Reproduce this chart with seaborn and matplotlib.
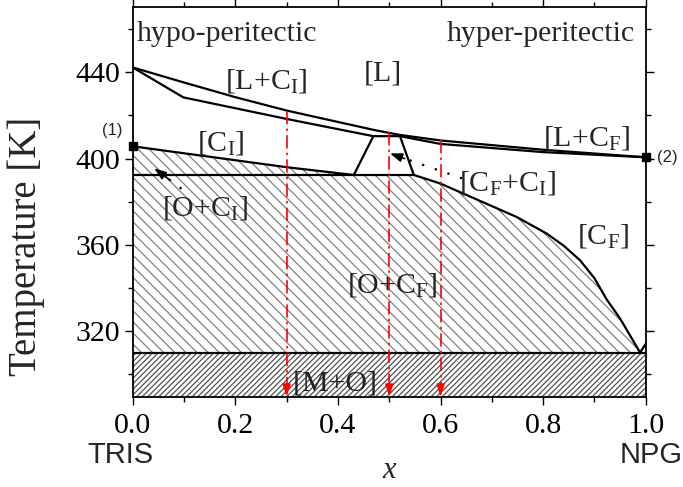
import numpy as np
import pandas as pd
import matplotlib
matplotlib.use("Agg")
import matplotlib.pyplot as plt
import seaborn as sns
from matplotlib.ticker import MultipleLocator

# ---------------- data ----------------
liq_x = [0.0, 0.1, 0.2, 0.3, 0.4, 0.47, 0.52, 0.6, 0.8, 1.0]
liq_T = [442.3, 435.3, 428.5, 422.3, 417.0, 413.3, 411.0, 408.4, 404.1, 400.6]

solI_x = [0.0, 0.0987, 0.3, 0.469]
solI_T = [442.3, 428.4, 418.4, 410.4]

solF_x = [0.521, 0.6, 0.8, 1.0]
solF_T = [410.4, 406.8, 403.0, 400.6]

trap_x = [0.431, 0.469, 0.521, 0.548]
trap_T = [392.4, 410.4, 410.4, 392.4]

solvI_x = [0.0, 0.3, 0.431]
solvI_T = [405.7, 396.0, 392.4]

perit_x = [0.0, 0.548]
perit_T = [392.4, 392.4]

solvF_x = [0.548, 0.6, 0.7485, 0.807, 0.84, 0.872, 0.90, 0.924, 0.95, 0.989]
solvF_T = [392.4, 388.4, 372.9, 365.2, 359.6, 352.8, 344.5, 334.6, 325.8, 310.0]

tail_x = [0.989, 1.0]
tail_T = [310.0, 314.0]

eutd_x = [0.0, 1.0]
eutd_T = [310.0, 310.0]

probe_x = [0.3, 0.5, 0.6]
probe_top = [422.3, 412.2, 408.4]

pure_x = [0.0, 1.0]
pure_T = [405.9, 400.6]
pure_lab = ["(1)", "(2)"]

ymin, ymax = 289.5, 470.2

# ---------------- style ----------------
sns.set_theme(style="ticks")
plt.rcParams["font.family"] = ["Liberation Serif", "DejaVu Serif"]
plt.rcParams["mathtext.fontset"] = "custom"
plt.rcParams["mathtext.rm"] = "Liberation Serif"
plt.rcParams["mathtext.it"] = "Liberation Serif:italic"
plt.rcParams["hatch.linewidth"] = 0.9

fig = plt.figure(figsize=(6.83, 4.87), dpi=100)
ax = fig.add_axes([0.1943, 0.1854, 0.7511, 0.7996])

hcol = "#808080"
# hatched regions
poly_x = solvI_x + solvF_x + [0.0]
poly_T = solvI_T + solvF_T + [310.0]
ax.fill(poly_x, poly_T, facecolor="none", edgecolor=hcol, linewidth=0, hatch="\\\\\\")
ax.fill_between(eutd_x, eutd_T, [ymin - 5, ymin - 5], facecolor="none",
                edgecolor="#505050", linewidth=0, hatch="//////")

def line(xs, ys, **kw):
    df = pd.DataFrame({"x": xs, "T": ys})
    sns.lineplot(data=df, x="x", y="T", sort=False, estimator=None, ax=ax,
                 color="black", linewidth=1.6, **kw)

line(liq_x, liq_T)
line(solI_x, solI_T)
line(solF_x, solF_T)
line(trap_x, trap_T)
line(solvI_x, solvI_T)
line(perit_x, perit_T)
line(solvF_x, solvF_T)
line(tail_x, tail_T)
line(eutd_x, eutd_T)

# red probe arrows
for px, pt in zip(probe_x, probe_top):
    ax.plot([px, px], [pt, ymin + 4], color="red", lw=1.2,
            linestyle=(0, (8, 2.5, 1.5, 2.5)))
    ax.annotate("", xy=(px, ymin), xytext=(px, ymin + 5),
                arrowprops=dict(arrowstyle="-|>,head_length=0.6,head_width=0.2",
                                color="red", lw=1.2, shrinkA=0, shrinkB=0))

# dotted pointer arrows
ax.plot([0.642, 0.515], [390.8, 401.3], color="black", lw=1.6, linestyle=(0, (1, 5)))
ax.annotate("", xy=(0.5016, 402.4), xytext=(0.53, 400.0),
            arrowprops=dict(arrowstyle="-|>,head_length=0.6,head_width=0.22",
                            color="black", lw=1.2, shrinkA=0, shrinkB=0))
ax.plot([0.095, 0.055], [386.0, 393.2], color="black", lw=1.6, linestyle=(0, (1, 5)))
ax.annotate("", xy=(0.042, 395.5), xytext=(0.07, 390.5),
            arrowprops=dict(arrowstyle="-|>,head_length=0.6,head_width=0.22",
                            color="black", lw=1.2, shrinkA=0, shrinkB=0))

# pure component markers
ax.plot(pure_x, pure_T, "s", color="black", ms=6, clip_on=False, zorder=5)
ax.text(-0.04, 413.0, pure_lab[0], fontsize=12, family="Liberation Sans",
        ha="center", va="center")
ax.text(1.042, 400.6, pure_lab[1], fontsize=12, family="Liberation Sans",
        ha="center", va="center", clip_on=False)

# region labels
fs = 21.5
ax.text(0.008, 454.4, "hypo-peritectic", fontsize=fs, ha="left", va="baseline")
ax.text(0.979, 454.4, "hyper-peritectic", fontsize=fs, ha="right", va="baseline")
ax.text(0.261, 432.4, r"[L+C$_\mathrm{I}$]", fontsize=fs, ha="center", va="baseline")
ax.text(0.487, 436.2, "[L]", fontsize=fs, ha="center", va="baseline")
ax.text(0.172, 403.8, r"[C$_\mathrm{I}$]", fontsize=fs, ha="center", va="baseline")
ax.text(0.885, 406.1, r"[L+C$_\mathrm{F}$]", fontsize=fs, ha="center", va="baseline")
ax.text(0.731, 385.2, r"[C$_\mathrm{F}$+C$_\mathrm{I}$]", fontsize=fs, ha="center", va="baseline")
ax.text(0.916, 360.6, r"[C$_\mathrm{F}$]", fontsize=fs, ha="center", va="baseline")
ax.text(0.141, 373.5, r"[O+C$_\mathrm{I}$]", fontsize=fs, ha="center", va="baseline")
ax.text(0.506, 338.0, r"[O+C$_\mathrm{F}$]", fontsize=fs, ha="center", va="baseline",
        color="#222222")
ax.text(0.395, 292.6, "[M+O]", fontsize=fs, ha="center", va="baseline", color="#222222")

# axes
ax.set_xlim(0, 1)
ax.set_ylim(ymin, ymax)
ax.xaxis.set_minor_locator(MultipleLocator(0.1))
ax.yaxis.set_minor_locator(MultipleLocator(20))
ax.set_yticks([320, 360, 400, 440])
ax.set_xticks([0, 0.2, 0.4, 0.6, 0.8, 1.0])
ax.set_xticklabels(["0.0", "0.2", "0.4", "0.6", "0.8", "1.0"])
ax.tick_params(which="both", direction="out", top=True, right=True,
               labeltop=False, labelright=False, width=1.0, colors="black",
               labelsize=21.5)
ax.tick_params(which="major", length=6, pad=3)
ax.tick_params(axis="x", which="major", pad=6)
ax.tick_params(which="minor", length=3.5)
for s in ax.spines.values():
    s.set_linewidth(1.3)
    s.set_color("black")

ax.set_xlabel("")
ax.set_ylabel("Temperature [K]", fontsize=28)
ax.yaxis.set_label_coords(-0.171, 0.385)
fig.text(389 / 683, 1 - 470 / 487, "x", fontsize=22, style="italic",
         ha="center", va="center")
fig.text(120 / 683, 1 - 455 / 487, "TRIS", fontsize=21, family="Liberation Sans",
         ha="center", va="center")
fig.text(651 / 683, 1 - 455 / 487, "NPG", fontsize=21, family="Liberation Sans",
         ha="center", va="center")

fig.savefig("out.png", dpi=100)
